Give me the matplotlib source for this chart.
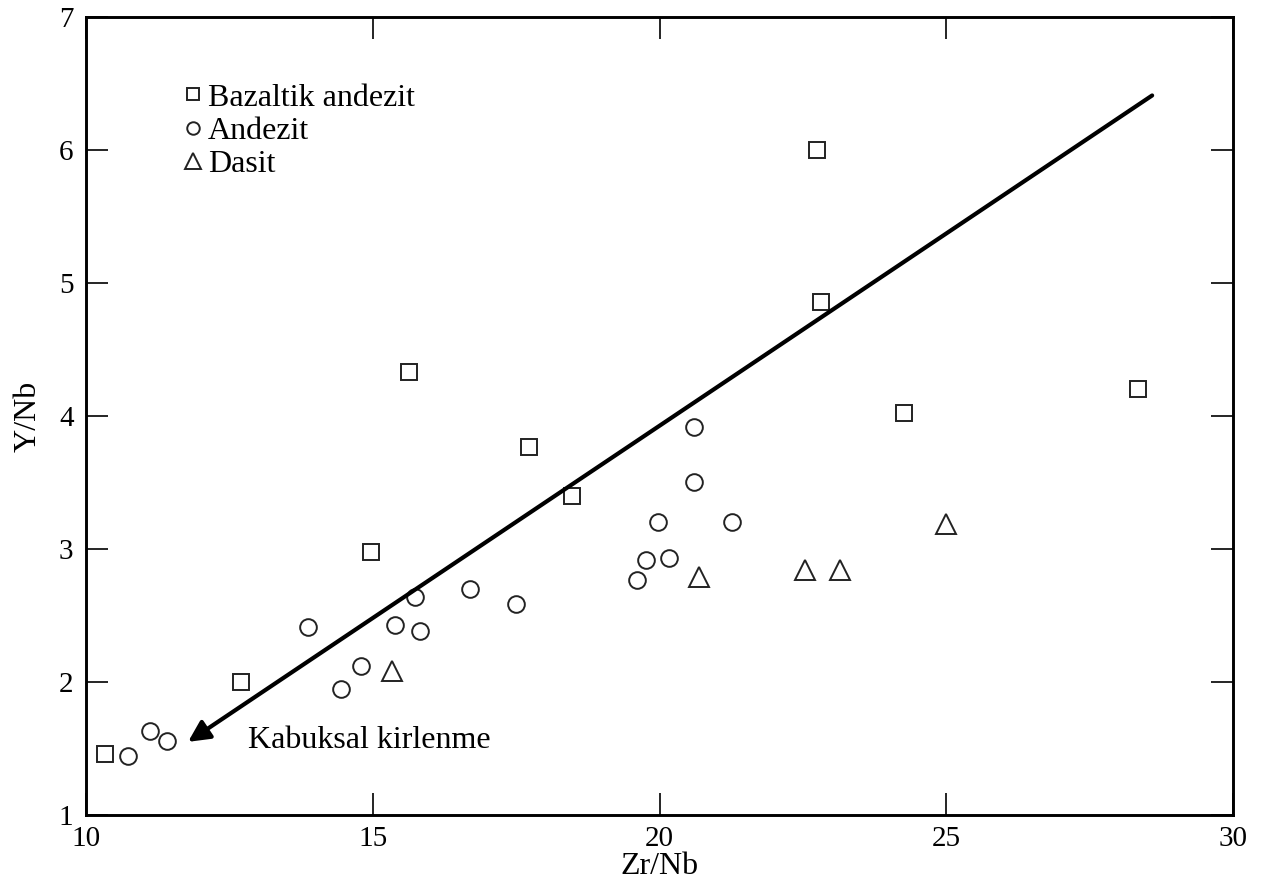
import matplotlib
matplotlib.use('Agg')
import matplotlib.pyplot as plt
from matplotlib.lines import Line2D

# 数据：Zr/Nb - Y/Nb
bazalt_x = [10.33, 12.70, 14.97, 15.63, 17.73, 18.47, 22.75, 22.82, 24.27, 28.35]
bazalt_y = [1.46, 2.00, 2.98, 4.33, 3.77, 3.40, 6.00, 4.86, 4.02, 4.20]

andezit_x = [10.73, 11.11, 11.41, 13.87, 14.44, 14.79, 15.38, 15.73, 15.82,
             16.69, 17.49, 19.60, 19.76, 19.98, 20.16, 20.61, 20.61, 21.27]
andezit_y = [1.44, 1.63, 1.56, 2.41, 1.95, 2.12, 2.43, 2.64, 2.38,
             2.70, 2.59, 2.77, 2.92, 3.20, 2.93, 3.50, 3.92, 3.20]

dasit_x = [15.33, 20.68, 22.53, 23.15, 25.00]
dasit_y = [2.08, 2.79, 2.84, 2.84, 3.19]

arrow_start = (28.59, 6.41)
arrow_end = (11.78, 1.55)
arrow_label = 'Kabuksal kirlenme'

x_ticks = [10, 15, 20, 25, 30]
y_ticks = [1, 2, 3, 4, 5, 6, 7]

plt.rcParams['font.family'] = ['Liberation Serif', 'DejaVu Serif']

fig = plt.figure(figsize=(12.61, 8.85), dpi=100)
ax = fig.add_axes([0.0682, 0.0791, 0.9778 - 0.0682, 0.9808 - 0.0791])

mkw = dict(linestyle='none', markerfacecolor='white', markeredgecolor='#222222',
           markeredgewidth=1.4)
ax.plot(bazalt_x, bazalt_y, marker='s', markersize=11, **mkw)
ax.plot(andezit_x, andezit_y, marker='o', markersize=12, **mkw)
ax.plot(dasit_x, dasit_y, marker='^', markersize=15, **mkw)

# 箭头
ax.annotate('', xy=arrow_end, xytext=arrow_start,
            arrowprops=dict(arrowstyle='-|>', lw=3, color='black',
                            mutation_scale=32, shrinkA=0, shrinkB=0))
ax.text(12.82, 1.56, arrow_label, fontsize=23, va='center', ha='left')

# 图例
handles = [Line2D([], [], marker='s', markersize=9, **mkw),
           Line2D([], [], marker='o', markersize=9, **mkw),
           Line2D([], [], marker='^', markersize=11, **mkw)]
ax.legend(handles, ['Bazaltik andezit', 'Andezit', 'Dasit'],
          loc='upper left', bbox_to_anchor=(0.087, 0.917), frameon=False,
          fontsize=23, handlelength=0.45, handletextpad=0.25,
          labelspacing=0.12, borderpad=0, borderaxespad=0)

ax.set_xlim(10, 30)
ax.set_ylim(1, 7)
ax.set_xticks(x_ticks)
ax.set_yticks(y_ticks)
ax.tick_params(direction='in', length=16, width=1.2, top=True, right=True,
               labelsize=21)
ax.tick_params(axis='x', pad=8)
ax.tick_params(axis='y', pad=9)
for sp in ax.spines.values():
    sp.set_linewidth(2.1)

ax.set_xlabel('Zr/Nb', fontsize=23, labelpad=0)
ax.set_ylabel('Y/Nb', fontsize=23, labelpad=12)

fig.savefig('out.png', dpi=100)
